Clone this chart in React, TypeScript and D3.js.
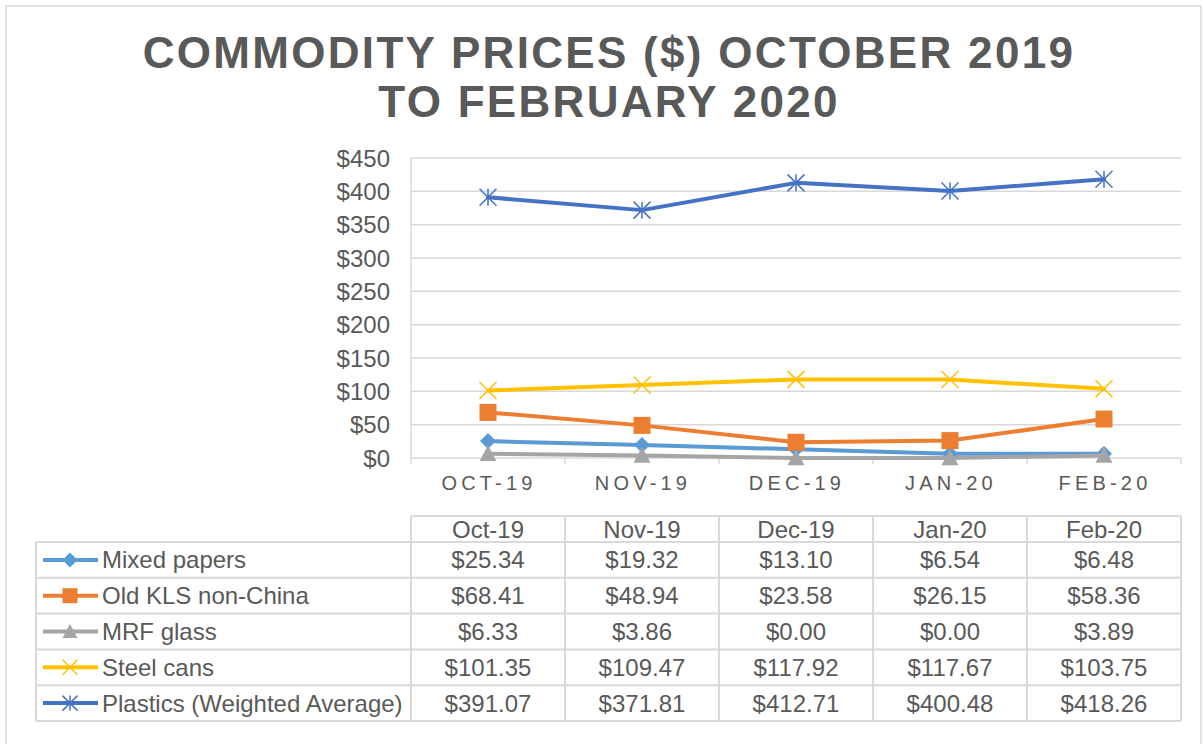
import * as d3 from "d3";
import React, { useRef, useEffect } from "react";

const categories = ["Oct-19", "Nov-19", "Dec-19", "Jan-20", "Feb-20"];
const seriesNames = [
  "Mixed papers",
  "Old KLS non-China",
  "MRF glass",
  "Steel cans",
  "Plastics (Weighted Average)"
];
const mixedPapers = [25.34, 19.32, 13.1, 6.54, 6.48];
const oldKls = [68.41, 48.94, 23.58, 26.15, 58.36];
const mrfGlass = [6.33, 3.86, 0.0, 0.0, 3.89];
const steelCans = [101.35, 109.47, 117.92, 117.67, 103.75];
const plastics = [391.07, 371.81, 412.71, 400.48, 418.26];
const yTicks = [0, 50, 100, 150, 200, 250, 300, 350, 400, 450];

const colors = ["#5B9BD5", "#ED7D31", "#A5A5A5", "#FFC000", "#4472C4"];
const markers = ["diamond", "square", "triangle", "x", "star"];

const W = 1203;
const H = 744;
const textColor = "#595959";
const gridColor = "#D9D9D9";
const font = "'Liberation Sans', Arial, sans-serif";

// marker path centred on 0,0
const markerPath = (type: string, s: number) => {
  const h = s / 2;
  switch (type) {
    case "diamond":
      return `M0,${-h}L${h},0L0,${h}L${-h},0Z`;
    case "square":
      return `M${-h},${-h}H${h}V${h}H${-h}Z`;
    case "triangle":
      return `M0,${-h}L${h},${h * 0.85}L${-h},${h * 0.85}Z`;
    case "x":
      return `M${-h},${-h}L${h},${h}M${h},${-h}L${-h},${h}`;
    default:
      return `M${-h},${-h}L${h},${h}M${h},${-h}L${-h},${h}M0,${-h}V${h}`;
  }
};
const isStroked = (type: string) => type === "x" || type === "star";

export default function App() {
  const ref = useRef<SVGSVGElement>(null);

  useEffect(() => {
    draw();
  }, []);

  const draw = () => {
    const svg = d3.select(ref.current);
    svg.selectAll("*").remove();

    const series = [mixedPapers, oldKls, mrfGlass, steelCans, plastics];

    const x = d3
      .scaleBand<string>()
      .domain(categories)
      .range([411, 1181]);
    const y = d3
      .scaleLinear()
      .domain([0, 450])
      .range([458, 158]);
    const cx = (c: string) => (x(c) as number) + x.bandwidth() / 2;

    // outer border
    svg
      .append("rect")
      .attr("x", 6)
      .attr("y", 6)
      .attr("width", 1195)
      .attr("height", H)
      .attr("fill", "#fff")
      .attr("stroke", gridColor)
      .attr("stroke-width", 1.5);

    // title
    const title = svg
      .append("text")
      .attr("text-anchor", "middle")
      .attr("font-family", font)
      .attr("font-weight", "bold")
      .attr("font-size", 44)
      .attr("letter-spacing", 2.3)
      .attr("fill", textColor);
    title
      .append("tspan")
      .attr("x", 609)
      .attr("y", 68)
      .text("COMMODITY PRICES ($) OCTOBER 2019");
    title
      .append("tspan")
      .attr("x", 609)
      .attr("y", 117)
      .text("TO FEBRUARY 2020");

    // gridlines
    svg
      .append("g")
      .selectAll("line")
      .data(yTicks)
      .enter()
      .append("line")
      .attr("x1", 411)
      .attr("x2", 1181)
      .attr("y1", d => y(d))
      .attr("y2", d => y(d))
      .attr("stroke", gridColor)
      .attr("stroke-width", 1.5);

    // y axis labels
    svg
      .append("g")
      .selectAll("text")
      .data(yTicks)
      .enter()
      .append("text")
      .attr("x", 390)
      .attr("y", d => y(d) + 8.5)
      .attr("text-anchor", "end")
      .attr("font-family", font)
      .attr("font-size", 24)
      .attr("fill", textColor)
      .text(d => `$${d}`);

    // left edge and category ticks
    svg
      .append("line")
      .attr("x1", 411)
      .attr("x2", 411)
      .attr("y1", y(450))
      .attr("y2", 464)
      .attr("stroke", gridColor)
      .attr("stroke-width", 1.5);
    svg
      .append("g")
      .selectAll("line")
      .data(categories)
      .enter()
      .append("line")
      .attr("x1", d => (x(d) as number) + x.bandwidth())
      .attr("x2", d => (x(d) as number) + x.bandwidth())
      .attr("y1", y(0))
      .attr("y2", 464)
      .attr("stroke", gridColor)
      .attr("stroke-width", 1.5);

    // x axis labels
    svg
      .append("g")
      .selectAll("text")
      .data(categories)
      .enter()
      .append("text")
      .attr("x", d => cx(d) + 1)
      .attr("y", 490)
      .attr("text-anchor", "middle")
      .attr("font-family", font)
      .attr("font-size", 20)
      .attr("letter-spacing", 4.2)
      .attr("fill", textColor)
      .text(d => d.toUpperCase());

    // lines + markers
    const line = d3
      .line<number>()
      .x((d, i) => cx(categories[i]))
      .y(d => y(d));

    series.forEach((vals, si) => {
      const g = svg.append("g");
      g.append("path")
        .attr("d", line(vals))
        .attr("fill", "none")
        .attr("stroke", colors[si])
        .attr("stroke-width", 4)
        .attr("stroke-linejoin", "round")
        .attr("stroke-linecap", "round");
      g.selectAll("path.m")
        .data(vals)
        .enter()
        .append("path")
        .attr("class", "m")
        .attr("transform", (d, i) => `translate(${cx(categories[i])},${y(d)})`)
        .attr("d", markerPath(markers[si], si === 0 ? 16 : 17))
        .attr("fill", isStroked(markers[si]) ? "none" : colors[si])
        .attr("stroke", isStroked(markers[si]) ? colors[si] : "none")
        .attr("stroke-width", 1.5);
    });

    // data table
    const headTop = 516;
    const rowTop = 542;
    const rowH = 35.8;
    const table = svg.append("g");

    table
      .selectAll("text.head")
      .data(categories)
      .enter()
      .append("text")
      .attr("class", "head")
      .attr("x", d => cx(d))
      .attr("y", (headTop + rowTop) / 2 + 8.5)
      .attr("text-anchor", "middle")
      .attr("font-family", font)
      .attr("font-size", 24)
      .attr("fill", textColor)
      .text(d => d);

    series.forEach((vals, si) => {
      const mid = rowTop + rowH * si + rowH / 2;
      table
        .append("line")
        .attr("x1", 43)
        .attr("x2", 98)
        .attr("y1", mid)
        .attr("y2", mid)
        .attr("stroke", colors[si])
        .attr("stroke-width", 4);
      table
        .append("path")
        .attr("transform", `translate(70,${mid})`)
        .attr("d", markerPath(markers[si], 15))
        .attr("fill", isStroked(markers[si]) ? "none" : colors[si])
        .attr("stroke", isStroked(markers[si]) ? colors[si] : "none")
        .attr("stroke-width", 1.5);
      table
        .append("text")
        .attr("x", 102)
        .attr("y", mid + 8.5)
        .attr("font-family", font)
        .attr("font-size", 24)
        .attr("fill", textColor)
        .text(seriesNames[si]);
      table
        .selectAll(`text.v${si}`)
        .data(vals)
        .enter()
        .append("text")
        .attr("class", `v${si}`)
        .attr("x", (d, i) => cx(categories[i]))
        .attr("y", mid + 8.5)
        .attr("text-anchor", "middle")
        .attr("font-family", font)
        .attr("font-size", 24)
        .attr("fill", textColor)
        .text(d => `$${d.toFixed(2)}`);
    });

    // table borders
    const bottom = rowTop + rowH * 5;
    const hLines = [
      { x1: 411, x2: 1181, y: headTop },
      ...d3.range(6).map(i => ({ x1: 36, x2: 1181, y: rowTop + rowH * i }))
    ];
    table
      .selectAll("line.h")
      .data(hLines)
      .enter()
      .append("line")
      .attr("x1", d => d.x1)
      .attr("x2", d => d.x2)
      .attr("y1", d => d.y)
      .attr("y2", d => d.y)
      .attr("stroke", gridColor)
      .attr("stroke-width", 2);
    const vLines = [
      { x: 36, y1: rowTop },
      ...d3.range(6).map(i => ({ x: 411 + x.bandwidth() * i, y1: headTop }))
    ];
    table
      .selectAll("line.v")
      .data(vLines)
      .enter()
      .append("line")
      .attr("x1", d => d.x)
      .attr("x2", d => d.x)
      .attr("y1", d => d.y1)
      .attr("y2", bottom)
      .attr("stroke", gridColor)
      .attr("stroke-width", 2);
  };

  return (
    <div style={{ position: "absolute", left: 0, top: 0 }}>
      <svg ref={ref} width={W} height={H} style={{ display: "block" }}></svg>
    </div>
  );
}
